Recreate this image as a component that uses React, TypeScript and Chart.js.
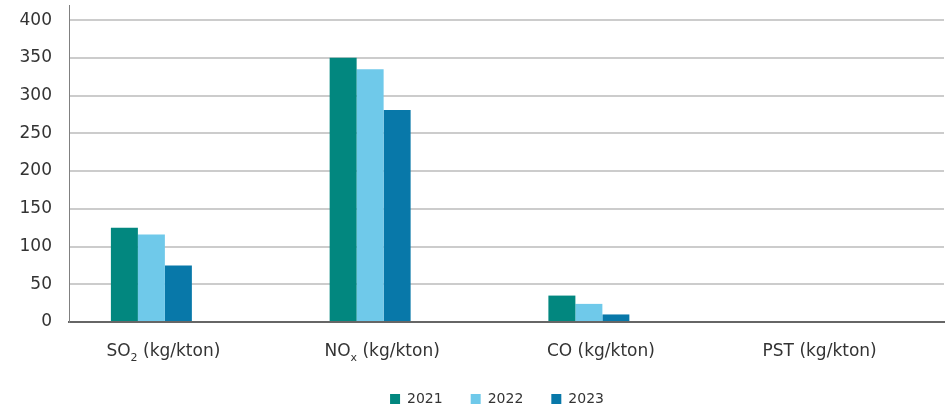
import React, { useEffect, useRef } from 'react';
import { Chart, registerables } from 'chart.js';

Chart.register(...registerables);

const categoryNames = ['SO', 'NO', 'CO', 'PST'];
const categorySubs = ['2', 'x', '', ''];
const categoryUnit = ' (kg/kton)';
const seriesNames = ['2021', '2022', '2023'];
const values2021 = [125, 350, 35, 0];
const values2022 = [116, 335, 24, 0];
const values2023 = [75, 281, 10, 0];
const seriesColors = ['#02877F', '#6FC9EA', '#0878A9'];
const yMax = 420;
const yTickMax = 400;
const yStep = 50;

const FONT = "'DejaVu Sans', sans-serif";

const xLabelPlugin = {
  id: 'xLabels',
  afterLayout(chart: any) {
    // centre the legend row slightly left of the plot, as in the original
    const lg = chart.legend;
    if (lg) {
      lg.left = chart.chartArea.left - 19;
      lg.right = chart.chartArea.right;
    }
  },
  afterDraw(chart: any) {
    const xs = chart.scales.x;
    const ctx = chart.ctx;
    const y = chart.chartArea.bottom + 30;
    ctx.save();
    ctx.fillStyle = '#333333';
    ctx.textBaseline = 'middle';
    ctx.textAlign = 'left';
    categoryNames.forEach((name, i) => {
      const sub = categorySubs[i];
      ctx.font = `17px ${FONT}`;
      const w1 = ctx.measureText(name).width;
      const w3 = ctx.measureText(categoryUnit).width;
      ctx.font = `11px ${FONT}`;
      const w2 = sub ? ctx.measureText(sub).width : 0;
      const total = w1 + w2 + w3;
      const cx = xs.getPixelForValue(i) - 15;
      let x = cx - total / 2;
      ctx.font = `17px ${FONT}`;
      ctx.fillText(name, x, y);
      x += w1;
      if (sub) {
        ctx.font = `11px ${FONT}`;
        ctx.fillText(sub, x, y + 6);
        x += w2;
      }
      ctx.font = `17px ${FONT}`;
      ctx.fillText(categoryUnit, x, y);
    });
    ctx.restore();
  },
};

export default function App() {
  const ref = useRef<HTMLCanvasElement | null>(null);
  useEffect(() => {
    if (!ref.current) return;
    const labels = categoryNames.map((n, i) => n + categorySubs[i] + categoryUnit);
    const seriesValues = [values2021, values2022, values2023];
    const datasets: any[] = seriesNames.map((name, i) => ({
      label: name,
      data: seriesValues[i],
      backgroundColor: seriesColors[i],
      borderWidth: 0,
    }));
    // empty spacer slots (Excel-style grouping)
    datasets.push({ label: '', data: labels.map(() => null), backgroundColor: 'transparent' });
    datasets.push({ label: '', data: labels.map(() => null), backgroundColor: 'transparent' });
    const chart = new Chart(ref.current, {
      type: 'bar',
      data: { labels, datasets },
      plugins: [xLabelPlugin],
      options: {
        animation: false,
        responsive: true,
        maintainAspectRatio: false,
        layout: { padding: { top: 5, right: 5, left: 0, bottom: 0 } },
        datasets: { bar: { categoryPercentage: 0.617, barPercentage: 1.0 } },
        plugins: {
          tooltip: { enabled: false },
          legend: {
            position: 'bottom',
            labels: {
              filter: (item: any) => item.text !== '',
              boxWidth: 10,
              boxHeight: 10,
              padding: 28,
              color: '#333333',
              font: { family: FONT, size: 14 },
            },
          },
        },
        scales: {
          x: {
            grid: { display: false },
            border: { color: '#666666', width: 2 },
            ticks: { display: false },
            afterFit: (s: any) => { s.height = 42; },
          },
          y: {
            min: 0,
            max: yMax,
            afterBuildTicks: (s: any) => {
              const t: any[] = [];
              for (let v = 0; v <= yTickMax; v += yStep) t.push({ value: v });
              s.ticks = t;
            },
            ticks: {
              stepSize: yStep,
              padding: 17,
              color: '#333333',
              font: { family: FONT, size: 17 },
            },
            grid: { color: '#cccccc', lineWidth: 2, drawTicks: false },
            border: { color: '#808080', width: 1 },
            afterFit: (s: any) => {
              s.width = 69;
              s.paddingTop = 0;
              s.paddingBottom = 0;
            },
          },
        },
      },
    });
    return () => chart.destroy();
  }, []);
  return (
    <div style={{ position: 'fixed', left: 0, top: 0, width: 949, height: 416 }}>
      <canvas ref={ref} />
    </div>
  );
}
